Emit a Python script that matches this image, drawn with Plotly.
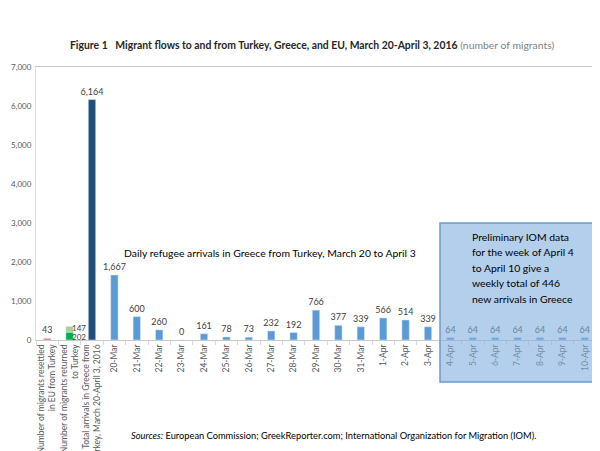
import plotly.graph_objects as go

# ---- data ----
summary_cats = [
    "Number of migrants resettled<br>in EU from Turkey",
    "Number of migrants returned<br>to Turkey",
    "Total arrivals in Greece from<br>Turkey, March 20-April 3, 2016",
]
resettled = [43]
returned_a = [202]
returned_b = [147]
total_arrivals = [6164]

daily_cats = ["20-Mar", "21-Mar", "22-Mar", "23-Mar", "24-Mar", "25-Mar", "26-Mar",
              "27-Mar", "28-Mar", "29-Mar", "30-Mar", "31-Mar", "1-Apr", "2-Apr", "3-Apr"]
daily_vals = [1667, 600, 260, 0, 161, 78, 73, 232, 192, 766, 377, 339, 566, 514, 339]

prelim_cats = ["4-Apr", "5-Apr", "6-Apr", "7-Apr", "8-Apr", "9-Apr", "10-Apr"]
prelim_vals = [64, 64, 64, 64, 64, 64, 64]

y_ticks = [0, 1000, 2000, 3000, 4000, 5000, 6000, 7000]

note_lines = ["Preliminary IOM data", "for the week of April 4", "to April 10 give a",
              "weekly total of 446", "new arrivals in Greece"]

all_cats = summary_cats + daily_cats + prelim_cats

FONT = "Lato"
LBL = dict(size=9, color="#404040", family=FONT)
W = 0.33

# page offset (body margin) compensation
OFF = 8
FW, FH = 600 - OFF, 451 - OFF
PL, PT = 36 - OFF, 67 - OFF
PR = FW - (596 - OFF)
PB = FH - (340 - OFF)
PW = FW - PL - PR
PH = FH - PT - PB


def px(xpage):
    return (xpage - 36) / PW


def py(ypage):
    return (340 - ypage) / PH


fig = go.Figure()
common = dict(width=W, texttemplate="%{y:,}", textposition="outside", textfont=LBL,
              cliponaxis=False, constraintext="none")
fig.add_bar(x=[summary_cats[0]], y=resettled, marker_color="#EC7272", **common)
fig.add_bar(x=[summary_cats[1]], y=returned_a, marker_color="#00B050", width=W)
fig.add_bar(x=[summary_cats[1]], y=returned_b, base=returned_a, marker_color="#A9D08E", width=W)
fig.add_bar(x=[summary_cats[2]], y=total_arrivals, marker_color="#1F4E79", **common)
fig.add_bar(x=daily_cats, y=daily_vals, marker_color="#5B9BD5", **common)
fig.add_bar(x=prelim_cats, y=prelim_vals, marker_color="#5B9BD5", **common)

# green stacked labels to the right
GL = dict(size=8, color="#404040", family=FONT)
fig.add_annotation(x=summary_cats[1], y=returned_a[0] + returned_b[0], text=str(returned_b[0]),
                   showarrow=False, xanchor="left", yanchor="middle", xshift=0, yshift=-2,
                   font=GL)
fig.add_annotation(x=summary_cats[1], y=0, text=str(returned_a[0]),
                   showarrow=False, xanchor="left", yanchor="bottom", xshift=0, yshift=-4,
                   font=GL)

fig.update_layout(
    width=FW, height=FH,
    margin=dict(l=PL, r=PR, t=PT, b=PB),
    plot_bgcolor="white", paper_bgcolor="white",
    showlegend=False, barmode="overlay",
    font=dict(family=FONT, color="#404040"),
)
fig.update_xaxes(
    type="category", categoryorder="array", categoryarray=all_cats,
    tickangle=-90, tickfont=dict(size=8.5, color="#595959", family=FONT),
    showline=True, linecolor="#C8C8C8", linewidth=1, mirror=True,
    ticks="outside", tickson="boundaries", ticklen=4, tickcolor="#D9D9D9",
    automargin=False, range=[-0.5, len(all_cats) - 0.5],
)
fig.update_yaxes(
    range=[0, 7000], tickvals=y_ticks, tickformat=",",
    tickfont=dict(size=8, color="#595959", family=FONT),
    showgrid=False, zeroline=False,
    showline=True, linecolor="#E0E0E0", mirror=True, ticks="", ticklen=0,
    ticklabelstandoff=2, automargin=False,
)

fig.add_annotation(
    xref="paper", yref="paper", x=px(312), y=py(45), xanchor="center", yanchor="middle",
    text="<b>Figure 1&nbsp;&nbsp;&nbsp;Migrant flows to and from Turkey, Greece, and EU, March 20-April 3, 2016</b>"
         " <span style='color:#7F7F7F'>(number of migrants)</span>",
    showarrow=False, font=dict(size=10.4, color="#262626", family=FONT),
)
fig.add_annotation(
    xref="paper", yref="paper", x=px(270), y=py(253), xanchor="center", yanchor="middle",
    text="Daily refugee arrivals in Greece from Turkey, March 20 to April 3",
    showarrow=False, font=dict(size=10.4, color="#000000", family=FONT),
)
fig.add_shape(
    type="rect", xref="paper", yref="paper", x0=px(440), x1=px(597), y0=py(382), y1=py(223),
    fillcolor="rgba(130,175,222,0.6)", line=dict(color="#6E9AD0", width=1.5), layer="above",
)
for i, line in enumerate(note_lines):
    fig.add_annotation(
        xref="paper", yref="paper", x=px(470), y=py(237 + 15.4 * i),
        xanchor="left", yanchor="middle", align="left",
        text=line, showarrow=False, font=dict(size=10.4, color="#000000", family=FONT),
    )
fig.add_annotation(
    xref="paper", yref="paper", x=px(333), y=py(435), xanchor="center", yanchor="middle",
    text="<i>Sources:</i> European Commission; GreekReporter.com; International Organization for Migration (IOM).",
    showarrow=False, font=dict(size=9.3, color="#000000", family=FONT),
)

fig.write_html("out.html")
